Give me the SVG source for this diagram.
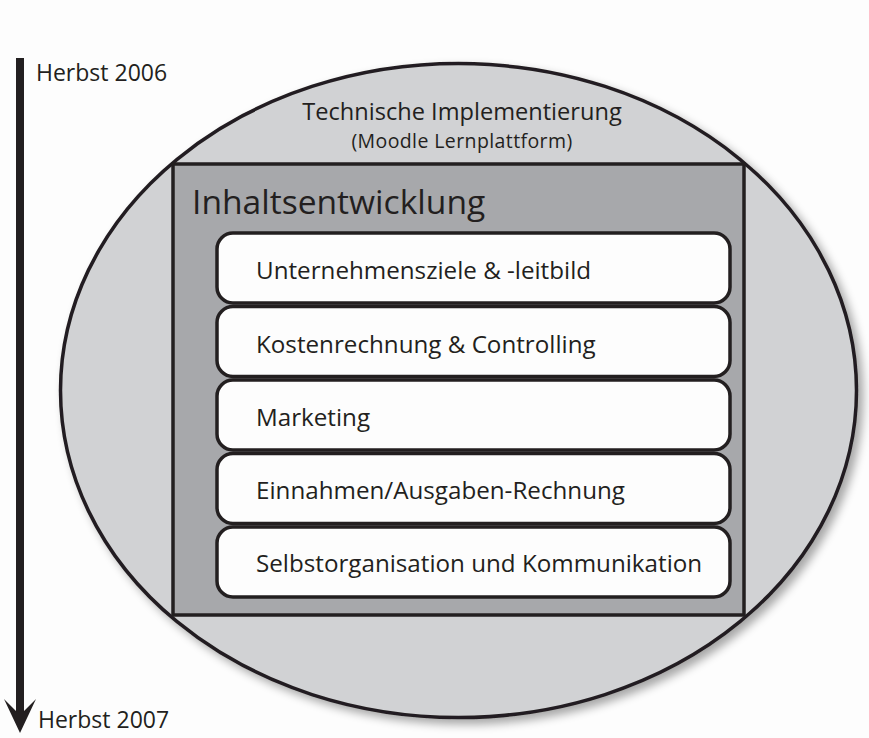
<svg xmlns="http://www.w3.org/2000/svg" width="869" height="738" viewBox="0 0 869 738">
<defs>
<filter id="sh" x="-10%" y="-10%" width="120%" height="120%">
<feGaussianBlur in="SourceAlpha" stdDeviation="5"/>
<feOffset dx="5" dy="5" result="b"/>
<feComponentTransfer><feFuncA type="linear" slope="0.35"/></feComponentTransfer>
<feMerge><feMergeNode/><feMergeNode in="SourceGraphic"/></feMerge>
</filter>
</defs>
<style>
text{font-family:"Open Sans","Noto Sans","DejaVu Sans",sans-serif;fill:#231f20}
.box{fill:#fdfdfd;stroke:#231f20;stroke-width:3.5}
.bt{font-size:24.2px}
</style>
<rect width="869" height="738" fill="#fdfdfd"/>
<g id="timeline">
<line x1="20" y1="58" x2="20" y2="712" stroke="#231f20" stroke-width="8"/>
<path d="M4,699 L20,733 L36,699 L24,711 L16,711 Z" fill="#231f20"/>
<text x="36" y="81" font-size="23">Herbst 2006</text>
<text x="38" y="728" font-size="23">Herbst 2007</text>
</g>
<g id="technik">
<ellipse cx="458.5" cy="390.5" rx="398" ry="327" fill="#d1d2d4" stroke="#231f20" stroke-width="3.5" filter="url(#sh)"/>
<text x="462" y="120" font-size="23.6" text-anchor="middle">Technische Implementierung</text>
<text x="462" y="148" font-size="19.5" text-anchor="middle" letter-spacing="0.4">(Moodle Lernplattform)</text>
</g>
<g id="inhalt">
<rect x="173" y="164" width="571" height="451" fill="#a7a8ab" stroke="#231f20" stroke-width="3.5"/>
<text x="192" y="214" font-size="33.6">Inhaltsentwicklung</text>
</g>
<g id="b1"><rect class="box" x="217" y="233" width="513" height="70" rx="16"/><text class="bt" x="256" y="279">Unternehmensziele &amp; -leitbild</text></g>
<g id="b2"><rect class="box" x="217" y="306.5" width="513" height="70" rx="16"/><text class="bt" x="256" y="353">Kostenrechnung &amp; Controlling</text></g>
<g id="b3"><rect class="box" x="217" y="380" width="513" height="70" rx="16"/><text class="bt" x="256" y="426">Marketing</text></g>
<g id="b4"><rect class="box" x="217" y="453.5" width="513" height="70" rx="16"/><text class="bt" x="256" y="499">Einnahmen/Ausgaben-Rechnung</text></g>
<g id="b5"><rect class="box" x="217" y="527" width="513" height="70" rx="16"/><text class="bt" x="256" y="572">Selbstorganisation und Kommunikation</text></g>
<g id="connectors"/>
</svg>
